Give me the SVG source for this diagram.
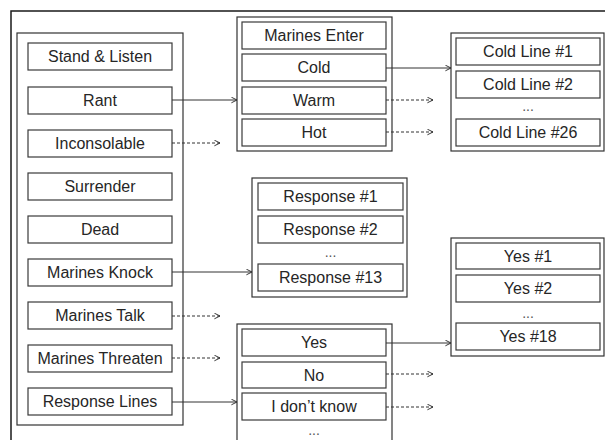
<svg xmlns="http://www.w3.org/2000/svg" width="605" height="440" viewBox="0 0 605 440">
<defs>
<style>
.frame{fill:none;stroke:#1a1a1a;stroke-width:1.5}
.panel{fill:#fff;stroke:#333;stroke-width:1.2}
.item{fill:#fff;stroke:#3a3a3a;stroke-width:1.2}
.t{font-family:"Liberation Sans",Arial,sans-serif;font-size:16px;fill:#262626;text-anchor:middle}
.dots{font-family:"Liberation Sans",Arial,sans-serif;font-size:14px;fill:#555;text-anchor:middle}
.solid{fill:none;stroke:#333;stroke-width:1;marker-end:url(#ah)}
.dash{fill:none;stroke:#333;stroke-width:1;stroke-dasharray:3,2;marker-end:url(#ah)}
</style>
<marker id="ah" viewBox="0 0 10 10" refX="9" refY="5" markerWidth="7" markerHeight="7" markerUnits="userSpaceOnUse" orient="auto">
<path d="M1,1 L9,5 L1,9" fill="none" stroke="#333" stroke-width="1.4"/>
</marker>
</defs>
<rect width="605" height="440" fill="#fff"/>
<rect class="frame" x="11" y="11" width="610" height="440"/>

<g id="states">
<rect class="panel" x="17" y="33" width="166" height="392"/>
<g id="stand-listen"><rect class="item" x="28" y="43" width="144" height="27"/><text class="t" x="100" y="62">Stand &amp; Listen</text></g>
<g id="rant"><rect class="item" x="28" y="87" width="144" height="27"/><text class="t" x="100" y="106">Rant</text></g>
<g id="inconsolable"><rect class="item" x="28" y="130" width="144" height="27"/><text class="t" x="100" y="149">Inconsolable</text></g>
<g id="surrender"><rect class="item" x="28" y="173" width="144" height="27"/><text class="t" x="100" y="192">Surrender</text></g>
<g id="dead"><rect class="item" x="28" y="216" width="144" height="27"/><text class="t" x="100" y="235">Dead</text></g>
<g id="marines-knock"><rect class="item" x="28" y="259" width="144" height="27"/><text class="t" x="100" y="278">Marines Knock</text></g>
<g id="marines-talk"><rect class="item" x="28" y="302" width="144" height="27"/><text class="t" x="100" y="321">Marines Talk</text></g>
<g id="marines-threaten"><rect class="item" x="28" y="345" width="144" height="27"/><text class="t" x="100" y="364">Marines Threaten</text></g>
<g id="response-lines"><rect class="item" x="28" y="388" width="144" height="27"/><text class="t" x="100" y="407">Response Lines</text></g>
</g>

<g id="marines-enter">
<rect class="panel" x="237" y="17" width="155" height="134"/>
<rect class="item" x="242" y="22" width="144" height="27"/><text class="t" x="314" y="41">Marines Enter</text>
<g id="cold"><rect class="item" x="242" y="54" width="144" height="27"/><text class="t" x="314" y="73">Cold</text></g>
<g id="warm"><rect class="item" x="242" y="87" width="144" height="27"/><text class="t" x="314" y="106">Warm</text></g>
<g id="hot"><rect class="item" x="242" y="119" width="144" height="27"/><text class="t" x="314" y="138">Hot</text></g>
</g>

<g id="cold-lines">
<rect class="panel" x="451" y="33" width="153" height="118"/>
<rect class="item" x="456" y="38" width="144" height="27"/><text class="t" x="528" y="57">Cold Line #1</text>
<rect class="item" x="456" y="71" width="144" height="27"/><text class="t" x="528" y="90">Cold Line #2</text>
<text class="dots" x="528" y="111">...</text>
<rect class="item" x="456" y="119" width="144" height="27"/><text class="t" x="528" y="138">Cold Line #26</text>
</g>

<g id="responses">
<rect class="panel" x="252" y="178" width="155" height="119"/>
<rect class="item" x="258" y="183" width="145" height="27"/><text class="t" x="330.5" y="202">Response #1</text>
<rect class="item" x="258" y="216" width="145" height="27"/><text class="t" x="330.5" y="235">Response #2</text>
<text class="dots" x="330.5" y="257">...</text>
<rect class="item" x="258" y="264" width="145" height="27"/><text class="t" x="330.5" y="283">Response #13</text>
</g>

<g id="yes-no">
<rect class="panel" x="237" y="324" width="155" height="130"/>
<g id="yes"><rect class="item" x="242" y="329" width="144" height="27"/><text class="t" x="314" y="348">Yes</text></g>
<g id="no"><rect class="item" x="242" y="362" width="144" height="26"/><text class="t" x="314" y="381">No</text></g>
<g id="dont-know"><rect class="item" x="242" y="393" width="144" height="27"/><text class="t" x="314" y="412">I don’t know</text></g>
<text class="dots" x="314" y="435">...</text>
</g>

<g id="yes-lines">
<rect class="panel" x="451" y="238" width="153" height="118"/>
<rect class="item" x="456" y="243" width="144" height="26"/><text class="t" x="528" y="262">Yes #1</text>
<rect class="item" x="456" y="275" width="144" height="27"/><text class="t" x="528" y="294">Yes #2</text>
<text class="dots" x="528" y="318">...</text>
<rect class="item" x="456" y="323" width="144" height="27"/><text class="t" x="528" y="342">Yes #18</text>
</g>

<g id="connectors">
<path class="solid" d="M172,100 H237"/>
<path class="dash" d="M172,143 H220"/>
<path class="solid" d="M172,272 H252"/>
<path class="dash" d="M172,316 H220"/>
<path class="dash" d="M172,358 H220"/>
<path class="solid" d="M172,402 H237"/>
<path class="solid" d="M386,68 H451"/>
<path class="dash" d="M386,100 H433"/>
<path class="dash" d="M386,132 H433"/>
<path class="solid" d="M386,343 H451"/>
<path class="dash" d="M386,374 H433"/>
<path class="dash" d="M386,407 H433"/>
</g>
</svg>
